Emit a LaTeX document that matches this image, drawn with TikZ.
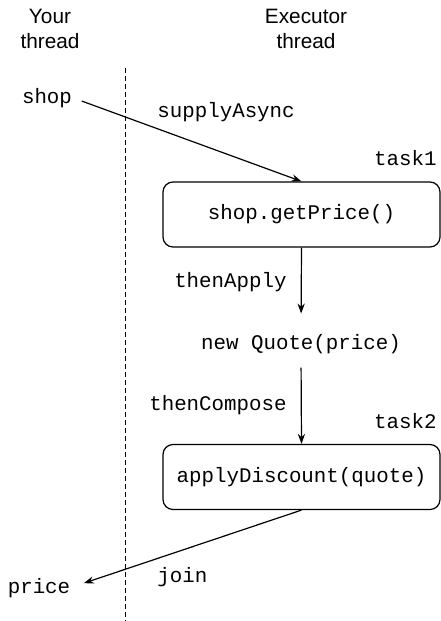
\documentclass[tikz,border=0pt]{standalone}
\usepackage{fontspec}
\setmainfont{Liberation Sans}
\setmonofont{Liberation Mono}
\usetikzlibrary{arrows.meta}
\begin{document}
\begin{tikzpicture}[
		x=0.5pt, y=-0.5pt,
		hdr/.style={font=\fontsize{10.4}{12.5}\selectfont, align=center, inner sep=0pt},
		code/.style={font=\ttfamily\fontsize{10.4}{12.5}\selectfont, inner sep=0pt},
		task/.style={code, draw, line width=0.6pt, rounded corners=5pt, minimum width=138.5pt, minimum height=32.5pt},
		flow/.style={-{Stealth[length=5pt,width=3.6pt]}, line width=0.6pt},
		sep/.style={dashed, dash pattern=on 2.5pt off 1.5pt, line width=0.5pt}
		]
		\useasboundingbox (0,0) rectangle (440,621);
		% --- headers ---
		\node[hdr] (your) at (50,29) {Your\\thread};
		\node[hdr] (exec) at (306,29) {Executor\\thread};
		% --- thread border ---
		\coordinate (septop) at (125,68);
		\coordinate (sepbot) at (125,621);
		\draw[sep] (septop) -- (sepbot);
		% --- tasks ---
		\node[task] (task1box) at (301.5,214.5) {shop.getPrice()};
		\node[task] (task2box) at (301.5,477) {applyDiscount(quote)};
		\node[code, anchor=base east] (task1) at (437,165) {task1};
		\node[code, anchor=base east] (task2) at (437,428) {task2};
		% --- values ---
		\node[code, anchor=base] (shop) at (47,103) {shop};
		\node[code, anchor=base] (quote) at (301,349) {new Quote(price)};
		\node[code, anchor=base] (price) at (39,593) {price};
		% --- calls ---
		\node[code, anchor=base west] (supply) at (157,117) {supplyAsync};
		\node[code, anchor=base east] (apply) at (287,287) {thenApply};
		\node[code, anchor=base east] (compose) at (287,410) {thenCompose};
		\node[code, anchor=base west] (join) at (157,582) {join};
		% --- arrows ---
		\draw[flow, shorten <=5pt] (shop.east) -- (task1box.north);
		\draw[flow, shorten >=10pt] (task1box.south) -- (quote.north);
		\draw[flow, shorten <=7pt] (quote.south) -- (task2box.north);
		\draw[flow, shorten >=7pt] (task2box.south) -- (price.east);
	\end{tikzpicture}
\end{document}
